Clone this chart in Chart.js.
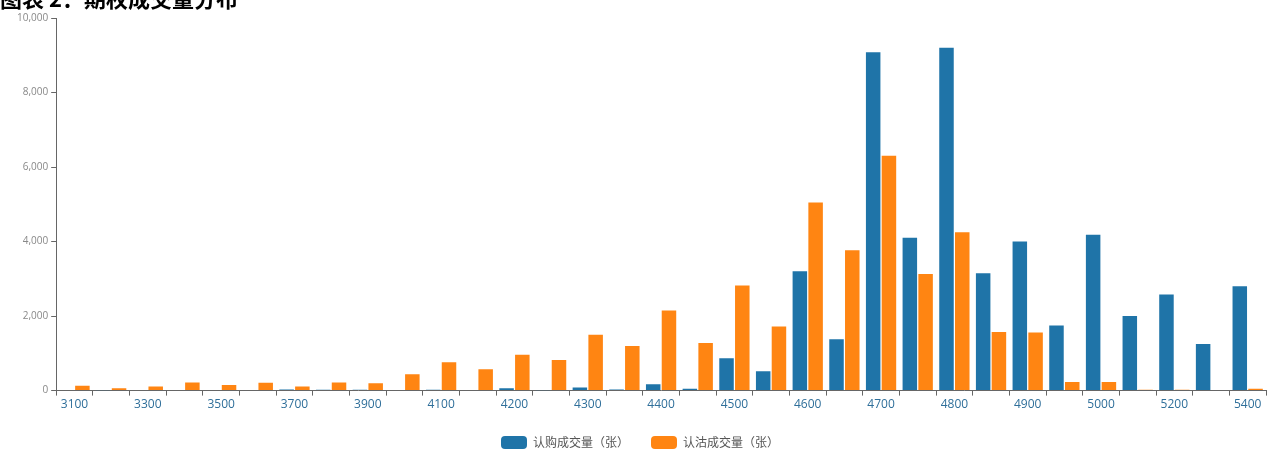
<!DOCTYPE html>
<html>
<head>
<meta charset="utf-8">
<script src="https://cdn.jsdelivr.net/npm/chart.js@4"></script>
<style>
  body { margin: 0; background: #fff; overflow: hidden; }
  #wrap { position: relative; width: 1274px; height: 459px; }
  #title { position: absolute; left: 0; top: -19px; font: bold 22px "Noto Sans CJK SC", sans-serif; color: #000; }
</style>
</head>
<body>
<div id="wrap">
  <canvas id="myChart" width="1274" height="459"></canvas>
  <div id="title">图表 2：期权成交量分布</div>
</div>
<script>
const categories = ['3100','3200','3300','3400','3500','3600','3700','3800','3900','4000','4100','4150','4200','4250','4300','4350','4400','4450','4500','4550','4600','4650','4700','4750','4800','4850','4900','4950','5000','5100','5200','5300','5400'];
const callVolume = [0,10,0,0,0,0,30,20,20,0,20,0,60,10,80,30,170,50,870,520,3200,1380,9080,4100,9200,3150,4000,1750,4180,2000,2580,1250,2800];
const putVolume = [130,60,110,220,150,210,110,220,200,440,760,570,960,820,1500,1200,2150,1280,2820,1720,5050,3770,6300,3130,4250,1570,1560,230,230,20,20,0,50];
const tickLabels = ['3100','3300','3500','3700','3900','4100','4200','4300','4400','4500','4600','4700','4800','4900','5000','5200','5400'];
const yTicks = [0, 2000, 4000, 6000, 8000, 10000];

const ctx = document.getElementById('myChart').getContext('2d');
const myChart = new Chart(ctx, {
    type: 'bar',
    data: {
        labels: categories,
        datasets: [{
            label: '认购成交量（张）',
            data: callVolume,
            backgroundColor: '#1f74a8'
        }, {
            label: '认沽成交量（张）',
            data: putVolume,
            backgroundColor: '#ff8512'
        }]
    },
    options: {
        responsive: false,
        animation: false,
        layout: { padding: { left: 14, right: 8, top: 18, bottom: 0 } },
        datasets: { bar: { categoryPercentage: 0.86, barPercentage: 0.92 } },
        plugins: {
            tooltip: { enabled: false },
            legend: {
                position: 'bottom',
                labels: {
                    boxWidth: 26, boxHeight: 13, padding: 22,
                    useBorderRadius: true, borderRadius: 4,
                    color: '#555', font: { family: 'Noto Sans CJK SC', size: 12 }
                }
            }
        },
        scales: {
            x: {
                offset: true,
                grid: { display: true, drawOnChartArea: false, offset: true, tickLength: 5, color: '#666' },
                border: { color: '#666' },
                ticks: {
                    autoSkip: false, maxRotation: 0, padding: 2,
                    color: '#2f6f9a', font: { family: 'Open Sans', size: 12 },
                    callback: function (v) {
                        const l = categories[v];
                        return tickLabels.includes(l) ? l : '';
                    }
                }
            },
            y: {
                min: 0, max: 10000,
                afterBuildTicks: function (axis) { axis.ticks = yTicks.map(v => ({ value: v })); },
                grid: { display: true, drawOnChartArea: false, tickLength: 5, color: '#666' },
                border: { color: '#666' },
                ticks: {
                    color: '#888', font: { family: 'Open Sans', size: 10 },
                    callback: v => v.toLocaleString('en-US')
                }
            }
        }
    }
});
</script>
</body>
</html>
